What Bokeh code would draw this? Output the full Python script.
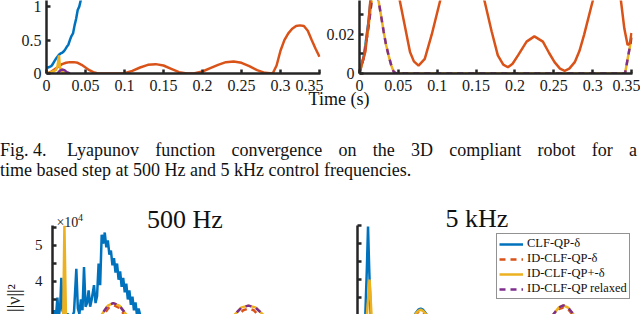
from bokeh.plotting import figure
from bokeh.models import FixedTicker, Label, Legend, LegendItem, Div, Range1d
from bokeh.layouts import column, row
from bokeh.embed import file_html
from bokeh.resources import INLINE

BLUE = "#0072BD"; ORANGE = "#D95319"; YELLOW = "#EDB120"; PURPLE = "#7E2F8E"
AXC = "#262626"
SERIF = "Liberation Serif"

# ---------------- data: top-left (500 Hz, Lyapunov function) ----------------
tl_blue_t = [0.000, 0.002, 0.004, 0.006, 0.008, 0.010, 0.012, 0.014, 0.016, 0.018, 0.020, 0.022,
             0.024, 0.026, 0.028, 0.030, 0.032, 0.034, 0.036, 0.038, 0.040, 0.042, 0.044, 0.046]
tl_blue_v = [0.09, 0.09, 0.10, 0.11, 0.14, 0.18, 0.22, 0.25, 0.28, 0.30, 0.31, 0.33,
             0.36, 0.40, 0.43, 0.50, 0.56, 0.60, 0.72, 0.82, 0.95, 1.00, 1.10, 1.30]
tl_orange_t = [0.000, 0.005, 0.010, 0.015, 0.020, 0.025, 0.030, 0.035, 0.040, 0.045, 0.050, 0.055,
               0.060, 0.065, 0.070, 0.080, 0.090, 0.100, 0.110, 0.120, 0.130, 0.140, 0.150, 0.160,
               0.170, 0.180, 0.190, 0.200, 0.210, 0.220, 0.230, 0.240, 0.250, 0.260, 0.270, 0.280,
               0.290, 0.295, 0.300, 0.305, 0.310, 0.315, 0.320, 0.325, 0.330, 0.335, 0.340, 0.345, 0.350]
tl_orange_v = [0.00, 0.02, 0.06, 0.10, 0.14, 0.16, 0.17, 0.17, 0.16, 0.13, 0.09, 0.05,
               0.02, 0.005, 0.00, 0.00, 0.00, 0.005, 0.04, 0.09, 0.13, 0.14, 0.12, 0.07,
               0.02, 0.00, 0.005, 0.03, 0.08, 0.13, 0.17, 0.18, 0.16, 0.11, 0.05, 0.01,
               0.00, 0.12, 0.34, 0.50, 0.60, 0.67, 0.71, 0.72, 0.71, 0.64, 0.50, 0.37, 0.25]
tl_yellow_t = [0.000, 0.004, 0.008, 0.012, 0.014, 0.016, 0.017, 0.018, 0.020, 0.022, 0.024]
tl_yellow_v = [0.00, 0.01, 0.03, 0.05, 0.10, 0.27, 0.12, 0.06, 0.03, 0.01, 0.00]
tl_purple_t = [0.014, 0.017, 0.020, 0.023, 0.026, 0.030]
tl_purple_v = [0.00, 0.04, 0.06, 0.05, 0.02, 0.00]

# ---------------- data: top-right (5 kHz, Lyapunov function) ----------------
tr_orange_t = [0.000, 0.0075, 0.0118, 0.0139, 0.020, 0.030, 0.040, 0.052, 0.059, 0.065, 0.070, 0.076,
               0.084, 0.093, 0.1036, 0.115, 0.130, 0.145, 0.161, 0.170, 0.178, 0.185, 0.191, 0.197,
               0.204, 0.215, 0.225, 0.236, 0.244, 0.251, 0.258, 0.264, 0.270, 0.277, 0.283, 0.289,
               0.300, 0.310, 0.320, 0.330, 0.3365, 0.3408, 0.345, 0.348, 0.350]
tr_orange_v = [0.0005, 0.011, 0.027, 0.037, 0.055, 0.065, 0.060, 0.037, 0.023, 0.011, 0.0062, 0.004,
               0.0075, 0.020, 0.037, 0.055, 0.062, 0.055, 0.037, 0.0216, 0.0093, 0.0045, 0.0032, 0.0050,
               0.0093, 0.0163, 0.019, 0.0163, 0.0105, 0.0058, 0.0025, 0.0014, 0.0025, 0.0058, 0.0115, 0.0198,
               0.037, 0.055, 0.062, 0.052, 0.037, 0.023, 0.0146, 0.0155, 0.0207]
tr_yp_t = [0.000, 0.006, 0.012, 0.018, 0.0246, 0.028, 0.031, 0.034, 0.0374, 0.041, 0.044, 0.048,
           0.340, 0.3417, 0.3459, 0.3502]
tr_yp_v = [0.000, 0.009, 0.025, 0.045, 0.037, 0.029, 0.0216, 0.015, 0.0093, 0.004, 0.0008, 0.000,
           0.000, 0.000, 0.0093, 0.0186]
tr_blue_t = [0.000, 0.006, 0.012, 0.016]
tr_blue_v = [0.000, 0.010, 0.028, 0.045]

# ---------------- data: bottom-left (500 Hz) ----------------
bl_blue_t = [0.000, 0.002, 0.004, 0.0064, 0.008, 0.010, 0.0115, 0.013, 0.016, 0.020, 0.024, 0.028,
             0.031, 0.033, 0.035, 0.037, 0.039, 0.041, 0.043, 0.045, 0.047, 0.049, 0.051, 0.054,
             0.056, 0.058, 0.060, 0.062, 0.064, 0.066, 0.068, 0.070, 0.072, 0.074, 0.076, 0.078,
             0.080, 0.082, 0.084, 0.086, 0.088, 0.090, 0.092, 0.094, 0.096, 0.098, 0.100, 0.102,
             0.104, 0.106, 0.108, 0.110, 0.112, 0.116, 0.120]
bl_blue_v = [30000, 32000, 29000, 35500, 30000, 33000, 41000, 32000, 30000, 31000, 29500, 31500,
             43500, 32500, 31000, 35000, 32000, 44000, 33000, 34000, 37500, 33000, 35000, 39000,
             34000, 36000, 45000, 39000, 53000, 50500, 53600, 49500, 51400, 47500, 48600, 44500,
             46500, 42500, 45000, 40500, 42800, 38500, 41000, 37000, 39400, 35000, 37500, 33500,
             35800, 32000, 34200, 30500, 32500, 29000, 28000]
bl_yellow_t = [0.010, 0.014, 0.0155, 0.0175, 0.020, 0.055, 0.064, 0.072, 0.079, 0.087, 0.096, 0.105,
               0.225, 0.237, 0.246, 0.255, 0.264, 0.274, 0.285]
bl_yellow_v = [28000, 30000, 55500, 30000, 28000, 26000, 30800, 33300, 34000, 33300, 30800, 26000,
               26000, 30800, 32800, 33300, 32800, 30800, 26000]
bl_purple_t = [0.055, 0.064, 0.072, 0.079, 0.087, 0.096, 0.105,
               0.225, 0.237, 0.246, 0.255, 0.264, 0.274, 0.285]
bl_purple_v = [26000, 30800, 33300, 34000, 33300, 30800, 26000,
               26000, 30800, 32800, 33300, 32800, 30800, 26000]
bl_orange_t = [0.058, 0.066, 0.073, 0.080, 0.087, 0.094, 0.102,
               0.228, 0.240, 0.248, 0.255, 0.262, 0.270, 0.282]
bl_orange_v = [26000, 30500, 32700, 33400, 32700, 30500, 26000,
               26000, 30200, 32000, 32500, 32000, 30200, 26000]

# ---------------- data: bottom-right (5 kHz) ----------------
br_blue_t = [0.000, 0.010, 0.012, 0.0135, 0.015, 0.017, 0.020, 0.068, 0.074, 0.078, 0.081, 0.084, 0.088, 0.094]
br_blue_v = [27000, 30000, 43000, 54700, 43000, 30000, 27000, 27000, 30500, 31600, 31900, 31600, 30500, 27000]
br_orange_t = [0.069, 0.075, 0.078, 0.081, 0.084, 0.087, 0.093, 0.246, 0.252, 0.258, 0.264, 0.270, 0.276, 0.282]
br_orange_v = [27000, 30300, 31000, 31300, 31000, 30300, 27000, 27000, 30200, 31800, 32200, 31800, 30200, 27000]
br_yellow_t = [0.012, 0.0155, 0.018, 0.068, 0.074, 0.078, 0.081, 0.084, 0.088, 0.094,
               0.245, 0.251, 0.258, 0.264, 0.270, 0.277, 0.283]
br_yellow_v = [30000, 40000, 30000, 27000, 30300, 31300, 31600, 31300, 30300, 27000,
               27000, 30300, 32200, 32800, 32200, 30300, 27000]
br_purple_t = [0.245, 0.251, 0.258, 0.264, 0.270, 0.277, 0.283]
br_purple_v = [27000, 30300, 32200, 32800, 32200, 30300, 27000]

# ---------------- ticks and texts ----------------
time_ticks = [0, 0.05, 0.1, 0.15, 0.2, 0.25, 0.3, 0.35]
time_tick_labels = ["0", "0.05", "0.1", "0.15", "0.2", "0.25", "0.3", "0.35"]
tl_y_ticks = [0, 0.5, 1]
tl_y_labels = ["0", "0.5", "1"]
tr_y_ticks = [0, 0.01, 0.02, 0.03]
tr_y_labels = ["0", "", "0.02", ""]
b_y_ticks = [30000, 35000, 40000, 45000, 50000, 55000]
bl_y_labels = ["3", "", "4", "", "5", ""]
br_y_labels = ["", "", "", "", "", ""]
legend_labels = ["CLF-QP-\u03b4", "ID-CLF-QP-\u03b4", "ID-CLF-QP+-\u03b4", "ID-CLF-QP relaxed"]
title_left = "500 Hz"
title_right = "5 kHz"
ylabel_bottom = "||\u03bd||\u00b2"
x_label = "Time (s)"
caption_fig = "Fig. 4."
caption_line1 = "Lyapunov function convergence on the 3D compliant robot for a"
caption_line2 = "time based step at 500 Hz and 5 kHz control frequencies."


def make_fig(width, height, xr, yr, mbl, mbr, mbt, mbb, show_x):
    p = figure(width=width, height=height, x_range=Range1d(*xr), y_range=Range1d(*yr),
               toolbar_location=None, output_backend="svg",
               min_border_left=mbl, min_border_right=mbr, min_border_top=mbt, min_border_bottom=mbb,
               x_axis_location=("below" if show_x else None), y_axis_location="left")
    p.outline_line_color = None
    p.grid.visible = False
    p.background_fill_color = "white"
    p.border_fill_color = "white"
    for ax in p.axis:
        ax.axis_line_color = AXC
        ax.axis_line_width = 2.5
        ax.major_tick_line_color = AXC
        ax.major_tick_line_width = 2.5
        ax.major_tick_in = 4
        ax.major_tick_out = 0
        ax.minor_tick_line_color = None
        ax.major_label_text_font = SERIF
        ax.major_label_text_font_size = "16px"
        ax.major_label_text_color = "#1a1a1a"
    return p


XR = (0, 0.3513)

# top-left
f_tl = make_fig(323, 103, XR, (0, 1.092), 46, 3, 0, 30, True)
f_tl.xaxis.ticker = FixedTicker(ticks=time_ticks)
f_tl.xaxis.major_label_overrides = dict(zip(time_ticks, time_tick_labels))
f_tl.xaxis.major_label_standoff = 6
f_tl.yaxis.ticker = FixedTicker(ticks=tl_y_ticks)
f_tl.yaxis.major_label_overrides = dict(zip(tl_y_ticks, tl_y_labels))
f_tl.yaxis.major_label_standoff = 5
f_tl.line(tl_orange_t, tl_orange_v, color=ORANGE, line_width=2.5)
f_tl.line(tl_blue_t, tl_blue_v, color=BLUE, line_width=2.5)
f_tl.line(tl_yellow_t, tl_yellow_v, color=YELLOW, line_width=2.5)
f_tl.line(tl_purple_t, tl_purple_v, color=PURPLE, line_width=2.5)

# top-right
f_tr = make_fig(317, 103, XR, (0, 0.03737), 35, 8, 0, 30, True)
f_tr.xaxis.ticker = FixedTicker(ticks=time_ticks)
f_tr.xaxis.major_label_overrides = dict(zip(time_ticks, time_tick_labels))
f_tr.xaxis.major_label_standoff = 6
f_tr.yaxis.ticker = FixedTicker(ticks=tr_y_ticks)
f_tr.yaxis.major_label_overrides = dict(zip(tr_y_ticks, tr_y_labels))
f_tr.yaxis.major_label_standoff = 5
f_tr.line(tr_blue_t, tr_blue_v, color=BLUE, line_width=2.5)
f_tr.line(tr_yp_t, tr_yp_v, color=YELLOW, line_width=2.5)
f_tr.line(tr_yp_t, tr_yp_v, color=PURPLE, line_width=2.5, line_dash="6 5")
f_tr.line(tr_orange_t, tr_orange_v, color=ORANGE, line_width=2.5)

# bottom-left
f_bl = make_fig(323, 114, XR, (30830, 62500), 48, 1, 0, 0, False)
f_bl.yaxis.ticker = FixedTicker(ticks=b_y_ticks)
f_bl.yaxis.major_label_overrides = dict(zip(b_y_ticks, bl_y_labels))
f_bl.yaxis.major_label_standoff = 10
f_bl.yaxis.major_label_text_font_size = "15px"
f_bl.yaxis.bounds = (20000, 55500)
f_bl.yaxis.axis_label = ylabel_bottom + "\u00a0" * 18
f_bl.yaxis.axis_label_text_font = SERIF
f_bl.yaxis.axis_label_text_font_size = "18px"
f_bl.yaxis.axis_label_text_font_style = "normal"
f_bl.yaxis.axis_label_text_color = "#1a1a1a"
f_bl.yaxis.axis_label_standoff = 8
f_bl.line(bl_blue_t, bl_blue_v, color=BLUE, line_width=2.5)
f_bl.line(bl_orange_t, bl_orange_v, color=ORANGE, line_width=2.5, line_dash="6 5")
f_bl.line(bl_yellow_t, bl_yellow_v, color=YELLOW, line_width=2.5)
f_bl.line(bl_purple_t, bl_purple_v, color=PURPLE, line_width=2.5, line_dash="6 5")
f_bl.add_layout(Label(x=0.1724, y=57360, text=title_left, text_align="center", text_baseline="middle",
                      text_font=SERIF, text_font_size="26px", text_color="#111111"))
f_bl.add_layout(Label(x=0.0051, y=56390, text="\u00d710", text_align="left", text_baseline="middle",
                      text_font=SERIF, text_font_size="14px", text_color="#1a1a1a"))
f_bl.add_layout(Label(x=0.0333, y=57640, text="4", text_align="left", text_baseline="middle",
                      text_font=SERIF, text_font_size="10px", text_color="#1a1a1a"))

# bottom-right
f_br = make_fig(317, 114, (0, 0.3526), (30280, 61940), 34, 8, 0, 0, False)
f_br.yaxis.ticker = FixedTicker(ticks=b_y_ticks)
f_br.yaxis.major_label_overrides = dict(zip(b_y_ticks, br_y_labels))
f_br.yaxis.bounds = (20000, 55000)
r_b = f_br.line(br_blue_t, br_blue_v, color=BLUE, line_width=2.5)
r_o = f_br.line(br_orange_t, br_orange_v, color=ORANGE, line_width=2.5, line_dash="6 5")
r_y = f_br.line(br_yellow_t, br_yellow_v, color=YELLOW, line_width=2.5)
r_p = f_br.line(br_purple_t, br_purple_v, color=PURPLE, line_width=2.5, line_dash="6 5")
f_br.add_layout(Label(x=0.1532, y=56810, text=title_right, text_align="center", text_baseline="middle",
                      text_font=SERIF, text_font_size="26px", text_color="#111111"))
legend = Legend(items=[LegendItem(label=legend_labels[0], renderers=[r_b]),
                       LegendItem(label=legend_labels[1], renderers=[r_o]),
                       LegendItem(label=legend_labels[2], renderers=[r_y]),
                       LegendItem(label=legend_labels[3], renderers=[r_p])],
                location=(139, 15))
legend.margin = 0
legend.padding = 2
legend.spacing = 0
legend.label_standoff = 4
legend.glyph_width = 24
legend.glyph_height = 10
legend.label_height = 10
legend.label_text_font = SERIF
legend.label_text_font_size = "12.5px"
legend.label_text_color = "#111111"
legend.border_line_color = AXC
legend.border_line_width = 1
legend.background_fill_color = "white"
legend.background_fill_alpha = 1.0
f_br.add_layout(legend)

html = f'''<div style="position:relative;width:640px;height:97px;font-family:'Liberation Serif',serif;color:#111;">
<div style="position:absolute;left:279px;top:-13px;width:120px;text-align:center;font-size:18px;line-height:18px;white-space:nowrap;">{x_label}</div>
<div style="position:absolute;left:0px;top:37px;font-size:18px;line-height:20px;white-space:nowrap;">{caption_fig}</div>
<div style="position:absolute;left:67px;top:37px;width:570px;font-size:18px;line-height:20px;text-align:justify;text-align-last:justify;">{caption_line1}</div>
<div style="position:absolute;left:0px;top:57px;font-size:18px;line-height:20px;white-space:nowrap;">{caption_line2}</div>
</div>'''
div = Div(text=html, width=640, height=97, margin=0)

layout = column(row(f_tl, f_tr), div, row(f_bl, f_br))
open("out.html", "w").write(file_html(layout, INLINE))
